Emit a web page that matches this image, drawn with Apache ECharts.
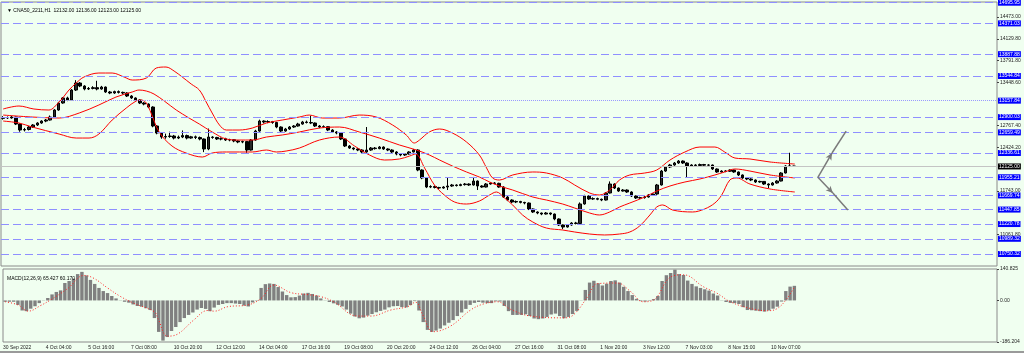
<!DOCTYPE html>
<html>
<head>
<meta charset="utf-8">
<script src="https://cdn.jsdelivr.net/npm/echarts@6/dist/echarts.min.js"></script>
<style>
  html, body { margin: 0; padding: 0; background: #9a9a9a; }
  #chart { width: 1024px; height: 351px; background: #f0fff0; }
</style>
</head>
<body>
<div id="chart"></div>
<script>
// ---- data ----
const tickLabels = ['30 Sep 2022','4 Oct 04:00','5 Oct 16:00','7 Oct 08:00','10 Oct 20:00','12 Oct 12:00','14 Oct 04:00','17 Oct 16:00','19 Oct 08:00','20 Oct 20:00','24 Oct 12:00','26 Oct 04:00','27 Oct 16:00','31 Oct 08:00','1 Nov 20:00','3 Nov 12:00','7 Nov 03:00','8 Nov 15:00','10 Nov 07:00'];
const slotCount = 233;           // bars + empty right shift
const barsPerLabel = 10;

// [open, close, low, high]
const ohlc = [
[12880,12893,12860,12915],[12893,12886,12870,12910],[12886,12901,12875,12920],[12901,12791,12775,12905],[12791,12697,12670,12800],
[12697,12705,12675,12730],[12705,12744,12690,12760],[12744,12776,12730,12790],[12776,12807,12760,12820],[12807,12838,12795,12850],
[12838,12854,12820,12870],[12854,12901,12845,12925],[12901,13011,12890,13025],[13011,13121,13000,13140],[13121,13200,13110,13215],
[13200,13168,13150,13220],[13168,13325,13160,13340],[13325,13435,13310,13480],[13435,13388,13370,13450],[13388,13341,13320,13400],
[13341,13350,13325,13372],[13350,13362,13335,13385],[13362,13341,13320,13470],[13341,13372,13330,13390],[13372,13294,13280,13380],
[13294,13278,13260,13310],[13278,13300,13265,13315],[13300,13288,13270,13318],[13288,13278,13255,13300],[13278,13231,13215,13290],
[13231,13200,13185,13245],[13200,13168,13150,13210],[13168,13121,13105,13180],[13121,13105,13085,13135],[13105,13058,13040,13115],
[13058,12760,12740,13070],[12760,12650,12630,12775],[12650,12587,12560,12665],[12587,12595,12560,12640],[12595,12603,12575,12670],
[12603,12571,12550,12620],[12571,12587,12555,12610],[12587,12610,12570,12690],[12610,12571,12550,12625],[12571,12590,12560,12605],
[12590,12580,12555,12610],[12580,12556,12535,12595],[12556,12399,12350,12565],[12399,12587,12380,12720],[12587,12580,12560,12600],
[12580,12556,12540,12590],[12556,12560,12535,12580],[12560,12540,12525,12575],[12540,12545,12520,12560],[12545,12525,12505,12555],
[12525,12509,12490,12535],[12509,12515,12490,12530],[12515,12383,12340,12525],[12383,12540,12375,12555],[12540,12681,12530,12700],
[12681,12838,12670,12860],[12838,12823,12800,12850],[12823,12830,12805,12850],[12830,12815,12795,12840],[12815,12744,12725,12825],
[12744,12681,12660,12755],[12681,12713,12670,12730],[12713,12744,12700,12760],[12744,12760,12730,12775],[12760,12791,12750,12810],
[12791,12823,12780,12840],[12823,12815,12800,12845],[12815,12807,12790,12920],[12807,12760,12745,12815],[12760,12744,12725,12775],
[12744,12750,12730,12770],[12750,12697,12680,12760],[12697,12666,12650,12710],[12666,12650,12630,12680],[12650,12556,12540,12660],
[12556,12446,12430,12565],[12446,12414,12400,12460],[12414,12399,12380,12425],[12399,12383,12365,12410],[12383,12352,12335,12395],
[12352,12383,12340,12744],[12383,12414,12370,12430],[12414,12405,12390,12430],[12405,12430,12395,12445],[12430,12399,12385,12440],
[12399,12383,12365,12410],[12383,12352,12335,12395],[12352,12320,12300,12365],[12320,12305,12285,12330],[12305,12320,12290,12335],
[12320,12352,12310,12365],[12352,12383,12345,12400],[12383,12069,12050,12395],[12069,11944,11925,12080],[11944,11802,11785,11955],
[11802,11810,11785,11830],[11810,11795,11780,11825],[11795,11786,11765,11805],[11786,11802,11775,11815],[11802,11818,11755,11944],
[11818,11834,11805,11850],[11834,11825,11810,11845],[11825,11840,11815,11855],[11840,11849,11825,11865],[11849,11834,11820,11860],
[11834,11896,11825,11960],[11896,11818,11755,11905],[11818,11802,11790,11830],[11802,11849,11795,11865],[11849,11865,11840,11880],
[11865,11860,11845,11880],[11860,11802,11790,11870],[11802,11645,11630,11815],[11645,11598,11580,11660],[11598,11567,11550,11610],
[11567,11575,11550,11590],[11575,11560,11545,11585],[11560,11551,11530,11570],[11551,11457,11440,11560],[11457,11410,11395,11465],
[11410,11394,11375,11420],[11394,11378,11360,11400],[11378,11394,11370,11410],[11394,11378,11360,11400],[11378,11300,11280,11385],
[11300,11206,11190,11310],[11206,11174,11140,11215],[11174,11206,11165,11220],[11206,11237,11195,11250],[11237,11230,11215,11255],
[11230,11536,11220,11560],[11536,11661,11525,11680],[11661,11614,11600,11670],[11614,11620,11600,11640],[11620,11610,11595,11635],
[11610,11598,11580,11620],[11598,11708,11590,11720],[11708,11849,11700,11890],[11849,11786,11770,11860],[11786,11739,11725,11795],
[11739,11755,11730,11770],[11755,11724,11710,11765],[11724,11661,11645,11735],[11661,11630,11615,11670],[11630,11635,11615,11650],
[11635,11645,11620,11660],[11645,11677,11635,11690],[11677,11692,11665,11705],[11692,11834,11680,11850],[11834,12053,11825,12070],
[12053,12116,12040,12130],[12116,12148,12100,12165],[12148,12179,12135,12195],[12179,12210,12165,12226],[12210,12179,12165,12220],
[12179,12132,11959,12190],[12132,12148,12120,12160],[12148,12140,12125,12160],[12140,12155,12130,12170],[12155,12145,12130,12165],
[12145,12148,12130,12160],[12148,12085,12070,12155],[12085,12038,12025,12095],[12038,12053,12030,12065],[12053,12050,12035,12065],
[12050,12069,12040,12080],[12069,12038,12025,12075],[12038,11991,11975,12045],[11991,11944,11930,12000],[11944,11928,11910,11955],
[11928,11912,11895,11940],[11912,11881,11865,11920],[11881,11890,11870,11900],[11890,11849,11835,11895],[11849,11834,11786,11860],
[11834,11865,11825,11880],[11865,11896,11855,11910],[11896,12022,11890,12035],[12022,12132,12015,12145],[12132,12132,12115,12340],
[12132,12125,12123,12136]
];

// bollinger bands, [bar index, price]
const bandUpper = [[0,13027],[3.7,13074],[7.2,13027],[10.7,13011],[13.1,13137],[14.3,13231],[15.4,13325],[17.1,13435],[18.9,13529],[22.4,13592],[25.5,13592],[28.3,13529],[30.2,13482],[33.5,13513],[35.8,13670],[38.1,13686],[40,13623],[41.9,13529],[44,13419],[45.9,13325],[47.5,13137],[48.9,12964],[50.6,12776],[52.2,12697],[55.2,12697],[58.3,12728],[61.6,12807],[65.3,12854],[69.3,12901],[71.6,12932],[74.7,12885],[78.7,12885],[83.3,12932],[87.3,12901],[91.1,12776],[94.3,12619],[96.2,12493],[97.4,12540],[99.7,12666],[102.1,12713],[105.1,12650],[108.4,12509],[111.4,12305],[113.1,12100],[114.5,11944],[116.1,11912],[119.2,11991],[123.9,12038],[127.1,12022],[130.9,11944],[133.7,11834],[137.2,11708],[139.5,11677],[141.9,11755],[144.2,11912],[146.6,11991],[150.1,12022],[152.9,12069],[156,12226],[159.5,12352],[163,12430],[166.5,12430],[168.8,12352],[171.2,12257],[174.7,12242],[179.4,12195],[185.2,12163]];
const bandMiddle = [[0,12932],[6.8,12901],[13.1,12885],[17.8,12964],[22.4,13090],[26.4,13215],[30.2,13294],[31.8,13325],[33.5,13309],[35.3,13262],[37.7,13152],[40.5,13011],[43.5,12885],[45.9,12791],[48.9,12666],[52.2,12556],[55.2,12540],[58.3,12540],[61.6,12587],[65.3,12619],[69.3,12666],[74,12728],[78.7,12744],[83.3,12666],[88,12571],[92.7,12462],[96.7,12383],[99.7,12305],[102.1,12226],[105.1,12132],[108.4,12038],[111.4,11959],[113.8,11881],[116.1,11818],[119.2,11755],[123.9,11645],[127.1,11598],[130.9,11535],[133.7,11472],[137.2,11394],[139.5,11363],[141.9,11410],[144.2,11488],[146.6,11551],[150.1,11645],[152.9,11739],[156,11818],[159.5,11881],[163,11928],[166.5,11991],[168.8,12038],[171.2,12085],[174.7,12053],[179.4,11991],[185.2,11944]];
const bandLower = [[0,12838],[3.7,12807],[6.8,12744],[13.1,12634],[17.1,12571],[20.1,12571],[22.4,12634],[25.5,12854],[28.8,13042],[31.1,13152],[32.3,13168],[33.5,13121],[34.6,12964],[36.5,12666],[39.5,12446],[42.8,12336],[46.6,12273],[48.9,12336],[52.2,12352],[58.3,12352],[61.6,12383],[63.9,12352],[66.2,12367],[69.3,12414],[74,12540],[78.7,12587],[82.2,12446],[85.7,12305],[89.2,12226],[92.7,12242],[95.1,12289],[96.5,12320],[98.6,12100],[100.9,11834],[103.2,11677],[105.6,11567],[108.4,11535],[111.4,11582],[113.8,11677],[115.4,11724],[117.3,11630],[119.2,11520],[121.5,11363],[123.9,11253],[127.1,11158],[130.9,11127],[133.7,11096],[137.2,11064],[140.7,11049],[144.2,11064],[146.6,11096],[148.9,11190],[151.3,11363],[152.9,11488],[154.3,11520],[156.6,11441],[161.3,11410],[164.1,11457],[166.5,11551],[168.1,11677],[170,11912],[171.6,11944],[174.7,11849],[179.4,11771],[185.2,11724]];

// MACD(12,26,9) histogram per bar and signal samples
const macdMain = [-6,-6,-6,-20,-45,-48,-37,-26,-12,-1,11,27,38,45,78,87,98,118,128,112,92,74,56,42,33,20,9,-1,-6,-10,
-18,-25,-28,-35,-43,-79,-141,-180,-164,-137,-119,-97,-79,-65,-54,-41,-34,-38,-48,-32,-20,-16,-12,-12,-14,-16,-23,-27,-9,2,
56,73,76,74,60,40,24,14,15,22,31,34,29,22,9,-1,-7,-13,-20,-27,-41,-59,-72,-80,-77,-68,-61,-53,-47,-41,
-31,-26,-25,-30,-31,-21,-3,-45,-97,-132,-141,-135,-126,-112,-100,-88,-70,-54,-38,-20,-11,-7,-10,-12,-12,-4,-5,-25,-48,-65,
-65,-65,-62,-70,-81,-84,-81,-74,-63,-59,-70,-80,-74,-61,-47,-1,47,80,88,77,67,75,87,90,80,61,42,24,7,-3,
-5,-2,6,20,87,113,123,138,118,114,89,74,63,56,50,44,31,22,-1,-7,-11,-12,-16,-30,-43,-44,-46,-48,-50,-45,
-37,-28,-5,42,62,65.427];
const macdSignal = [[0,-6],[3,-20],[5.4,-48],[8.4,-22],[10.7,3],[14.7,54],[18.5,112],[20.8,99],[24,56],[27.1,17],[30.2,-13],[35,-51],[35.8,-80],[38.1,-160],[40.5,-150],[44.2,-88],[47.5,-45],[49,-48],[52.2,-28],[56.9,-20],[60,9],[63,69],[67,35],[71,26],[74,17],[77,-6],[82.6,-70],[85.7,-70],[90.4,-43],[94.3,-28],[96.2,-8],[97.9,-65],[100.4,-140],[104.4,-115],[109.1,-43],[112.1,-16],[115.4,-6],[118.5,-40],[123.2,-70],[131,-78],[133.2,-65],[136.5,15],[138.8,75],[143.5,78],[146.6,40],[149.6,-6],[152,2],[156,105],[159,115],[163.7,61],[166.9,32],[170,-6],[174.7,-36],[178.7,-46],[181,-36],[183.3,9],[185,60.17]];

const priceTicks = [14473.00, 14129.80, 13791.80, 13448.60, 12767.40, 12424.20, 11743.00, 11061.80];
const blueLevels = [14695.95, 14371.03, 13887.88, 13544.84, 12900.03, 12659.49, 12336.61, 11955.21, 11669.74, 11447.85, 11220.78, 10989.32, 10750.32];
const dottedLevel = 13157.84;
const lastPrice = 12125.00;
const macdTicks = [140.825, 0, -186.204];

// forecast arrows, [bar index, price]
const arrowUp = [[190.6, 11955.21], [193.9, 12336], [197.2, 12681]];
const arrowDown = [[190.6, 11955.21], [194.1, 11708], [197.6, 11441]];

// ---- chart ----
const font = 'Liberation Sans';
const categories = [];
for (let i = 0; i < slotCount; i++) categories.push('b' + i);
const labelPos = tickLabels.map((_, k) => k * barsPerLabel - 0.5);

const levelStyle = { color: '#8f8fff', type: [8, 4], width: 1 };
const boxLabel = (bg) => ({
  show: true, position: 'end', distance: 1,
  formatter: (p) => Number(p.value).toFixed(2),
  backgroundColor: bg, color: '#ffffff', fontSize: 5, fontFamily: font,
  padding: [1, 1, 0, 1], lineHeight: 5
});
const levelLines = blueLevels.map(v => ({ yAxis: v, lineStyle: levelStyle, label: boxLabel('#0000ff') }));
levelLines.push({ yAxis: dottedLevel, lineStyle: { color: '#9a9aff', type: [1, 1], width: 1 }, label: boxLabel('#0000ff') });
levelLines.push({ yAxis: lastPrice, lineStyle: { color: '#c4c4c4', type: 'solid', width: 1 }, label: boxLabel('#000000') });

const arrowLines = (pts) => [
  [{ coord: pts[0], symbol: 'none' }, { coord: pts[1], symbol: 'arrow', symbolSize: [5, 7] }],
  [{ coord: pts[1], symbol: 'none' }, { coord: pts[2], symbol: 'none' }]
];

const bandSeries = (name, data) => ({
  name, type: 'line', xAxisIndex: 1, yAxisIndex: 0, data,
  smooth: 0.35, showSymbol: false, z: 3, silent: true,
  lineStyle: { color: '#ff0000', width: 1 }
});

const chart = echarts.init(document.getElementById('chart'), null, { renderer: 'canvas' });
chart.setOption({
  animation: false,
  backgroundColor: '#f0fff0',
  title: [
    { text: '▼ CNA50_2211,H1  12132.00 12136.00 12123.00 12125.00', left: 2, top: 3,
      textStyle: { fontSize: 5, fontWeight: 'normal', color: '#000', fontFamily: font } },
    { text: 'MACD(12,26,9) 65.427 60.170', left: 2, top: 271,
      textStyle: { fontSize: 5, fontWeight: 'normal', color: '#000', fontFamily: font } }
  ],
  grid: [
    { left: 1, right: 27, top: 2, height: 264, show: true, borderColor: '#8a8a8a', borderWidth: 1 },
    { left: 1, right: 27, top: 269, height: 73, show: true, borderColor: '#8a8a8a', borderWidth: 1 }
  ],
  xAxis: [
    { type: 'category', gridIndex: 0, data: categories, boundaryGap: true, show: false },
    { type: 'value', gridIndex: 0, min: -0.5, max: slotCount - 0.5, show: false },
    { type: 'category', gridIndex: 1, data: categories, boundaryGap: true, show: false },
    { type: 'value', gridIndex: 1, min: -0.5, max: slotCount - 0.5, position: 'bottom',
      axisLine: { show: false, onZero: false }, splitLine: { show: false },
      axisTick: { show: false },
      axisLabel: {
        customValues: labelPos, align: 'left', margin: 3, fontSize: 5, fontFamily: font, color: '#222',
        formatter: (v) => tickLabels[Math.round((v + 0.5) / barsPerLabel)]
      } }
  ],
  yAxis: [
    { type: 'value', gridIndex: 0, position: 'right', min: 10562, max: 14707,
      splitLine: { show: false }, axisLine: { show: false, onZero: false },
      axisTick: { show: true, customValues: priceTicks, length: 2, lineStyle: { color: '#444' } },
      axisLabel: { customValues: priceTicks, margin: 3, fontSize: 5, fontFamily: font, color: '#222',
        formatter: (v) => v.toFixed(2) } },
    { type: 'value', gridIndex: 1, position: 'right', min: -186.204, max: 140.825,
      splitLine: { show: false }, axisLine: { show: false, onZero: false },
      axisTick: { show: true, customValues: macdTicks, length: 2, lineStyle: { color: '#444' } },
      axisLabel: { customValues: macdTicks, margin: 3, fontSize: 5, fontFamily: font, color: '#222',
        formatter: (v) => v === 0 ? '0.00' : String(v) } }
  ],
  series: [
    { name: 'levels', type: 'line', xAxisIndex: 1, yAxisIndex: 0, data: [], z: 1, silent: true,
      markLine: { silent: true, symbol: ['none', 'none'], data: levelLines } },
    { name: 'price', type: 'candlestick', xAxisIndex: 0, yAxisIndex: 0, data: ohlc, barWidth: 3, z: 2,
      itemStyle: { color: '#2a2a2a', color0: '#000000', borderColor: '#000000', borderColor0: '#000000', borderWidth: 1 } },
    bandSeries('upper', bandUpper),
    bandSeries('middle', bandMiddle),
    Object.assign(bandSeries('lower', bandLower), {
      markLine: { silent: true, symbol: ['none', 'none'], label: { show: false },
        lineStyle: { color: '#7a7a7a', width: 1.5, type: 'solid' },
        data: arrowLines(arrowUp).concat(arrowLines(arrowDown)) }
    }),
    { name: 'macd', type: 'bar', xAxisIndex: 2, yAxisIndex: 1, data: macdMain, barWidth: 3.4,
      itemStyle: { color: '#808080' }, silent: true },
    { name: 'signal', type: 'line', xAxisIndex: 3, yAxisIndex: 1, data: macdSignal,
      smooth: 0.4, showSymbol: false, silent: true, z: 3,
      lineStyle: { color: '#ff2020', width: 1, type: [1, 2] } }
  ]
});
</script>
</body>
</html>
